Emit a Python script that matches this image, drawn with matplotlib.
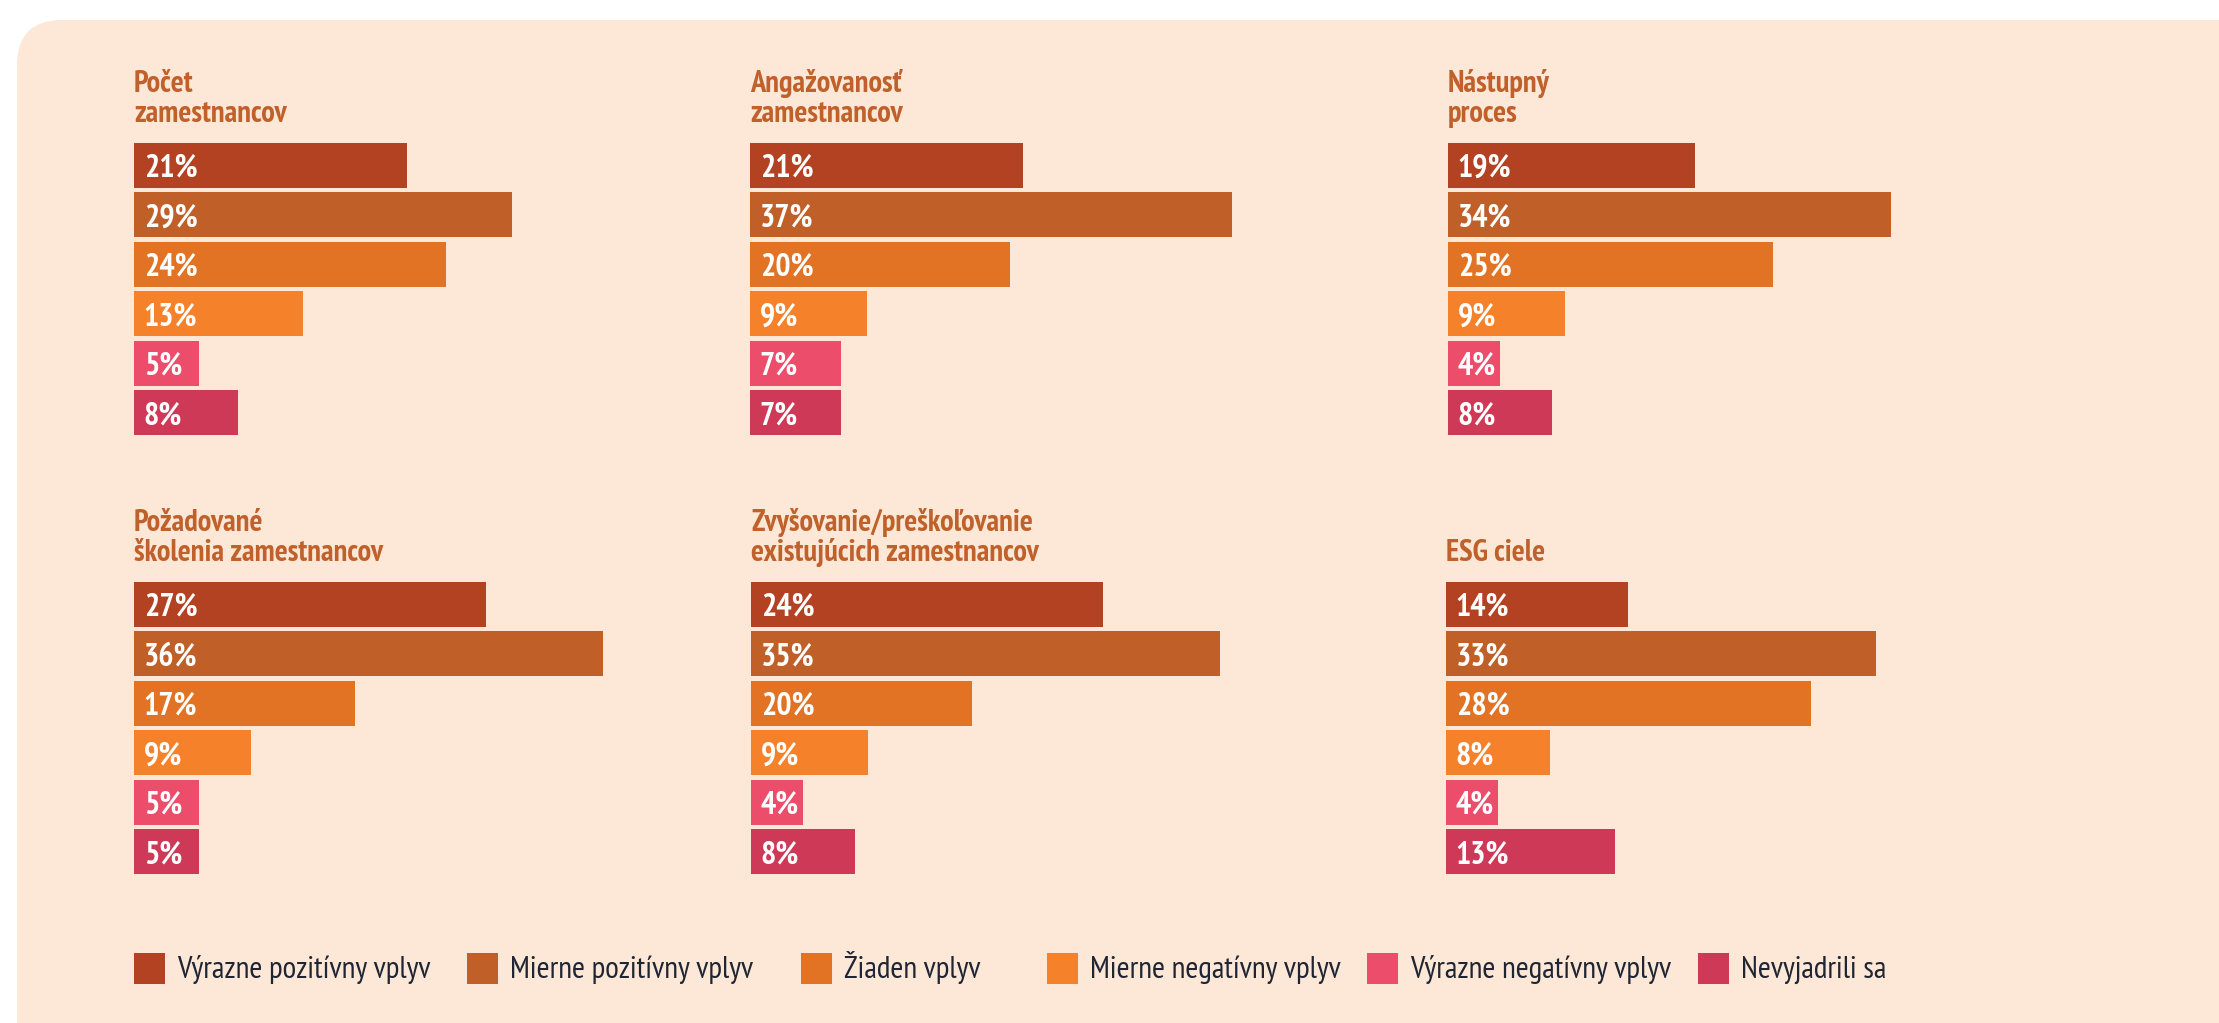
import matplotlib.pyplot as plt
from matplotlib.patches import FancyBboxPatch, Rectangle

plt.rcParams['font.family'] = ['PT Sans Narrow', 'DejaVu Sans']

# legend categories and colours
categories = ['Výrazne pozitívny vplyv', 'Mierne pozitívny vplyv', 'Žiaden vplyv',
              'Mierne negatívny vplyv', 'Výrazne negatívny vplyv', 'Nevyjadrili sa']
colors = ['#B34223', '#C05F27', '#E27325', '#F5822A', '#EB4D6A', '#CE3957']

# panel titles
titles = ['Počet\nzamestnancov', 'Angažovanosť\nzamestnancov', 'Nástupný\nproces',
          'Požadované\nškolenia zamestnancov', 'Zvyšovanie/preškoľovanie\nexistujúcich zamestnancov',
          'ESG ciele']

# values in percent, one list per panel
pocet = [21, 29, 24, 13, 5, 8]
angazovanost = [21, 37, 20, 9, 7, 7]
nastupny = [19, 34, 25, 9, 4, 8]
skolenia = [27, 36, 17, 9, 5, 5]
zvysovanie = [24, 35, 20, 9, 4, 8]
esg = [14, 33, 28, 8, 4, 13]

# the source graphic draws the zvysovanie bars with lengths that differ from its labels
zvysovanie_bars = [27, 36, 17, 9, 4, 8]

W, H = 2219, 1023
BG = '#FDE8D7'
TITLE_COLOR = '#C0602A'
TEXT_COLOR = '#1F2533'
PX_PER_PCT = 13.02


def px_axes(fig, left, top, width, height):
  """
    Add axes using pixel coordinates measured from the top left corner
  """
  return fig.add_axes([left / W, 1 - (top + height) / H, width / W, height / H])


def draw_panel(fig, canvas, bars, labels, title, left, top):
  """
    Draw one horizontal bar panel with its title
  """
  width = 600
  height = 292
  ax = px_axes(fig, left, top, width, height)
  pos = list(range(len(bars)))
  ax.barh(pos, bars, height=0.9, color=colors, linewidth=0)
  ax.set_xlim(0, width / PX_PER_PCT)
  ax.set_ylim(len(bars) - 0.55, -0.45)
  ax.axis('off')
  for p, v in zip(pos, labels):
    ax.text(0.75, p, f'{v}%', color='white', fontsize=23, fontweight='bold',
            va='center_baseline', ha='left')

  lines = title.split('\n')
  base = top - 21
  for i, line in enumerate(reversed(lines)):
    canvas.text(left, base - i * 30, line, color=TITLE_COLOR, fontsize=22,
                fontweight='bold', va='baseline', ha='left')


fig = plt.figure(figsize=(W / 100, H / 100), dpi=100, facecolor='white')

canvas = fig.add_axes([0, 0, 1, 1])
canvas.set_xlim(0, W)
canvas.set_ylim(H, 0)
canvas.axis('off')
canvas.add_patch(FancyBboxPatch((17, 20), W + 60, H + 60,
                                boxstyle='round,pad=0,rounding_size=45',
                                facecolor=BG, edgecolor='none'))

labels = [pocet, angazovanost, nastupny, skolenia, zvysovanie, esg]
bars = [pocet, angazovanost, nastupny, skolenia, zvysovanie_bars, esg]
lefts = [134, 750, 1448, 134, 751, 1446]
tops = [143, 143, 143, 582, 582, 582]
for b, lab, title, left, top in zip(bars, labels, titles, lefts, tops):
  draw_panel(fig, canvas, b, lab, title, left, top)

# legend
leg_x = [134, 467, 801, 1047, 1367, 1698]
for x, c, label in zip(leg_x, colors, categories):
  canvas.add_patch(Rectangle((x, 953), 31, 31, facecolor=c, edgecolor='none'))
  canvas.text(x + 43, 978, label, color=TEXT_COLOR, fontsize=22.5,
              va='baseline', ha='left')

plt.savefig('out.png', dpi=100, facecolor='white')
